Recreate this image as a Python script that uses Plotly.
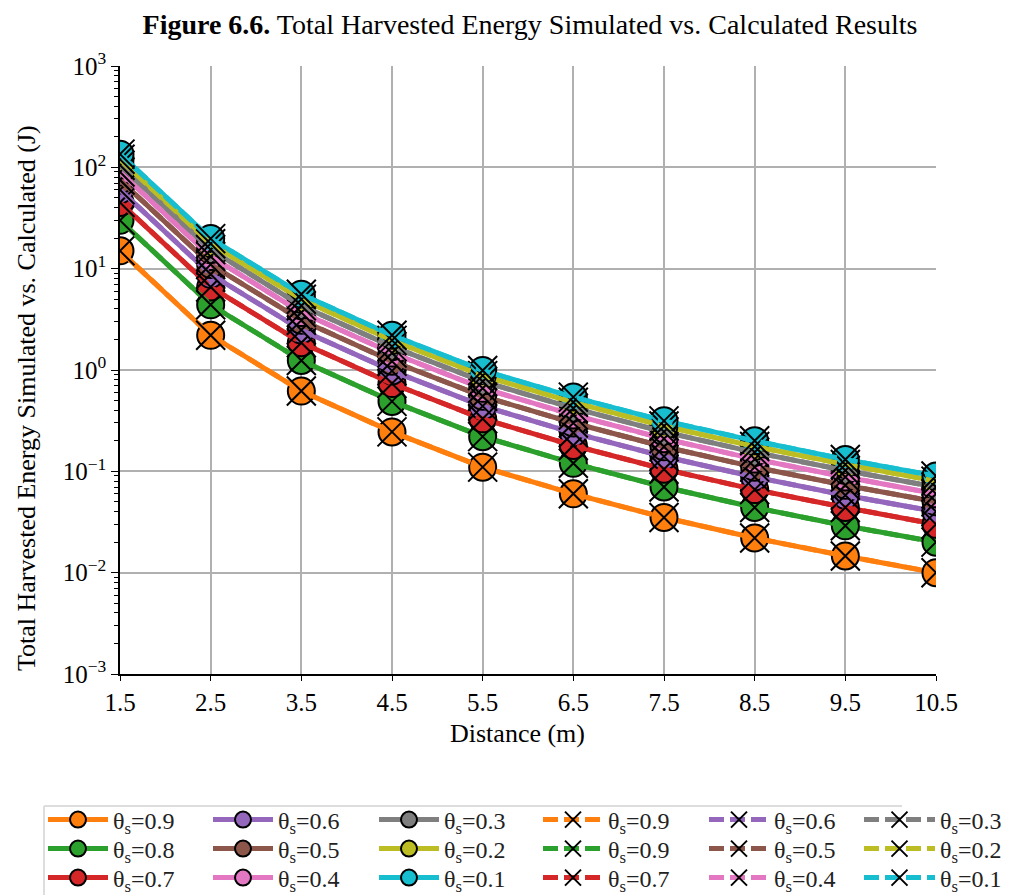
import plotly.graph_objects as go

distance = [1.5, 2.5, 3.5, 4.5, 5.5, 6.5, 7.5, 8.5, 9.5, 10.5]
tick_labels_x = ["1.5", "2.5", "3.5", "4.5", "5.5", "6.5", "7.5", "8.5", "9.5", "10.5"]
y_tick_vals = [1e-3, 1e-2, 1e-1, 1e0, 1e1, 1e2, 1e3]
y_tick_text = ["10<sup>−3</sup>", "10<sup>−2</sup>", "10<sup>−1</sup>", "10<sup>0</sup>",
               "10<sup>1</sup>", "10<sup>2</sup>", "10<sup>3</sup>"]

theta_sim = ["0.9", "0.8", "0.7", "0.6", "0.5", "0.4", "0.3", "0.2", "0.1"]
theta_calc_labels = ["0.9", "0.9", "0.7", "0.6", "0.5", "0.4", "0.3", "0.2", "0.1"]

sim_09 = [15, 2.2, 0.62, 0.245, 0.11, 0.06, 0.035, 0.022, 0.0146, 0.010]
sim_08 = [30, 4.4, 1.24, 0.49, 0.22, 0.12, 0.070, 0.044, 0.029, 0.020]
sim_07 = [45, 6.6, 1.86, 0.735, 0.33, 0.18, 0.105, 0.066, 0.044, 0.030]
sim_06 = [60, 8.8, 2.48, 0.98, 0.44, 0.24, 0.140, 0.088, 0.058, 0.040]
sim_05 = [75, 11.0, 3.10, 1.22, 0.55, 0.30, 0.175, 0.110, 0.073, 0.050]
sim_04 = [90, 13.2, 3.70, 1.47, 0.66, 0.36, 0.210, 0.132, 0.088, 0.060]
sim_03 = [105, 15.4, 4.30, 1.70, 0.77, 0.42, 0.245, 0.154, 0.102, 0.070]
sim_02 = [120, 17.6, 5.00, 1.96, 0.88, 0.48, 0.280, 0.176, 0.117, 0.080]
sim_01 = [135, 19.8, 5.60, 2.20, 0.99, 0.54, 0.315, 0.200, 0.131, 0.090]

calc_09 = [15, 2.2, 0.62, 0.245, 0.11, 0.06, 0.035, 0.022, 0.0146, 0.010]
calc_08 = [30, 4.4, 1.24, 0.49, 0.22, 0.12, 0.070, 0.044, 0.029, 0.020]
calc_07 = [45, 6.6, 1.86, 0.735, 0.33, 0.18, 0.105, 0.066, 0.044, 0.030]
calc_06 = [60, 8.8, 2.48, 0.98, 0.44, 0.24, 0.140, 0.088, 0.058, 0.040]
calc_05 = [75, 11.0, 3.10, 1.22, 0.55, 0.30, 0.175, 0.110, 0.073, 0.050]
calc_04 = [90, 13.2, 3.70, 1.47, 0.66, 0.36, 0.210, 0.132, 0.088, 0.060]
calc_03 = [105, 15.4, 4.30, 1.70, 0.77, 0.42, 0.245, 0.154, 0.102, 0.070]
calc_02 = [120, 17.6, 5.00, 1.96, 0.88, 0.48, 0.280, 0.176, 0.117, 0.080]
calc_01 = [135, 19.8, 5.60, 2.20, 0.99, 0.54, 0.315, 0.200, 0.131, 0.090]

sim_series = [sim_09, sim_08, sim_07, sim_06, sim_05, sim_04, sim_03, sim_02, sim_01]
calc_series = [calc_09, calc_08, calc_07, calc_06, calc_05, calc_04, calc_03, calc_02, calc_01]

colors = ["#ff7f0e", "#2ca02c", "#d62728", "#9467bd", "#8c564b",
          "#e377c2", "#7f7f7f", "#bcbd22", "#17becf"]

FONT = "Liberation Serif"
W, H = 1011, 895
PL, PR, PT, PB = 120, 936, 66, 674
PW, PH = PR - PL, PB - PT

col_x = [43, 208, 374, 538, 704, 859]
row_y = [820, 849, 878]


def legend_id(idx):
    return "legend" if idx == 0 else "legend%d" % (idx + 1)


fig = go.Figure()

for k, (vals, lab) in enumerate(zip(sim_series, theta_sim)):
    col, row = k // 3, k % 3
    fig.add_trace(go.Scatter(
        x=distance, y=vals, mode="lines+markers",
        name="θ<sub>s</sub>=" + lab,
        line=dict(color=colors[k], width=5),
        marker=dict(symbol="circle", size=27, color=colors[k],
                    line=dict(color="black", width=2)),
        legend=legend_id(col * 3 + row),
    ))

for k, (vals, lab) in enumerate(zip(calc_series, theta_calc_labels)):
    col, row = 3 + k // 3, k % 3
    fig.add_trace(go.Scatter(
        x=distance, y=vals, mode="lines+markers",
        name="θ<sub>s</sub>=" + lab,
        line=dict(color=colors[k], width=5, dash="15px,6px"),
        marker=dict(symbol="x-thin", size=29, color="black",
                    line=dict(color="black", width=2)),
        legend=legend_id(col * 3 + row),
    ))

legend_layout = {}
for col in range(6):
    for row in range(3):
        idx = col * 3 + row
        legend_layout[legend_id(idx)] = dict(
            xref="container", yref="container", xanchor="left", yanchor="middle",
            x=col_x[col] / W, y=1 - row_y[row] / H,
            orientation="v", bgcolor="rgba(0,0,0,0)", borderwidth=0,
            font=dict(family=FONT, size=24, color="#222"),
            itemwidth=71 if col == 5 else 60,
        )

fig.update_layout(
    width=W, height=H,
    margin=dict(l=PL, r=W - PR, t=PT, b=H - PB, autoexpand=False),
    paper_bgcolor="white", plot_bgcolor="white",
    font=dict(family=FONT, size=25, color="black"),
    title=dict(
        text="<b>Figure 6.6.</b> Total Harvested Energy Simulated vs. Calculated Results",
        x=530 / W, xanchor="center", y=1 - 24 / H, yanchor="middle",
        font=dict(family=FONT, size=28, color="black"),
    ),
    showlegend=True,
    **legend_layout,
)

fig.update_xaxes(
    range=[1.5, 10.5], tickvals=distance, ticktext=tick_labels_x,
    showgrid=True, gridcolor="#b0b0b0", gridwidth=1.6,
    showline=True, linecolor="black", linewidth=1.5, mirror=False,
    ticks="outside", ticklen=5, tickcolor="black", tickwidth=1.2,
    zeroline=False, automargin=False,
    tickfont=dict(family=FONT, size=25),
)
fig.update_yaxes(
    type="log", range=[-3, 3], tickvals=y_tick_vals, ticktext=y_tick_text,
    showgrid=True, gridcolor="#b0b0b0", gridwidth=1.6,
    showline=True, linecolor="black", linewidth=1.5, mirror=False,
    ticks="outside", ticklen=7, tickcolor="black", tickwidth=1.2,
    minor=dict(ticks="outside", ticklen=4, tickcolor="black", tickwidth=1,
               showgrid=False, dtick="D1"),
    zeroline=False, automargin=False,
    tickfont=dict(family=FONT, size=25),
)

# axis titles
fig.add_annotation(text="Distance (m)", xref="paper", yref="paper",
                   x=(517 - PL) / PW, y=(PB - 733) / PH, showarrow=False,
                   xanchor="center", yanchor="middle",
                   font=dict(family=FONT, size=26, color="black"))
fig.add_annotation(text="Total Harvested Energy Simulated vs. Calculated (J)",
                   xref="paper", yref="paper", textangle=-90,
                   x=(26 - PL) / PW, y=(PB - 398) / PH, showarrow=False,
                   xanchor="center", yanchor="middle",
                   font=dict(family=FONT, size=26, color="black"))

# legend frame (top and left edges as in reference)
fig.add_shape(type="line", xref="paper", yref="paper",
              x0=(44 - PL) / PW, x1=(902 - PL) / PW,
              y0=(PB - 806) / PH, y1=(PB - 806) / PH,
              line=dict(color="#dddddd", width=2))
fig.add_shape(type="line", xref="paper", yref="paper",
              x0=(44 - PL) / PW, x1=(44 - PL) / PW,
              y0=(PB - 806) / PH, y1=(PB - 900) / PH,
              line=dict(color="#dddddd", width=2))

fig.write_html("out.html")
